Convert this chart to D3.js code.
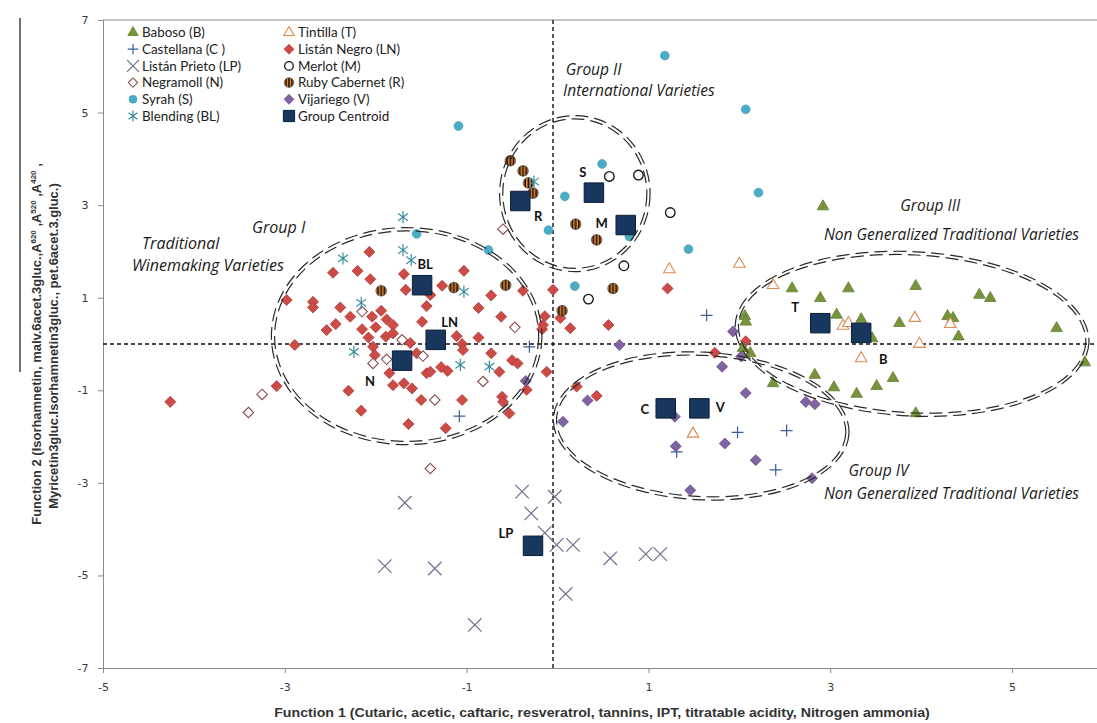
<!DOCTYPE html>
<html>
<head>
<meta charset="utf-8">
<script src="https://cdn.jsdelivr.net/npm/d3@7"></script>
<style>
  body { margin: 0; background: #fff; }
  svg { display: block; }
</style>
</head>
<body>
<svg id="chart" width="1097" height="723"></svg>
<script>
// Discriminant scores [Function 1, Function 2] for each wine sample, by grape variety
const baboso = [[2.92,2.97],[2.58,1.20],[3.20,1.20],[3.94,1.25],[2.89,0.99],[4.64,1.06],[4.76,0.99],[2.06,0.60],[2.07,0.48],[3.07,0.63],[3.34,0.53],[3.76,0.45],[4.29,0.60],[4.35,0.56],[5.49,0.34],[3.46,0.12],[4.41,0.16],[2.04,-0.09],[2.12,-0.20],[5.80,-0.40],[2.83,-0.67],[3.69,-0.74],[3.51,-0.91],[2.37,-0.85],[3.04,-0.94],[3.29,-1.08],[3.94,-1.50]];
const tintilla = [[2.00,1.73],[2.37,1.27],[3.14,0.39],[3.20,0.45],[3.93,0.56],[4.32,0.43],[3.98,0.00],[3.34,-0.31],[1.23,1.61],[1.49,-1.94]];
const castellana = [[-0.31,-0.06],[-1.08,-1.56],[1.64,0.62],[1.98,-1.91],[2.52,-1.87],[2.40,-2.72],[1.31,-2.33]];
const listanNegro = [[-4.26,-1.25],[-3.09,-0.91],[-2.98,0.95],[-2.89,-0.02],[-2.69,0.91],[-2.69,0.79],[-2.54,0.30],[-2.44,0.43],[-2.47,1.54],[-2.39,0.79],[-2.30,-1.01],[-2.28,0.59],[-2.20,1.58],[-2.16,-1.44],[-2.15,0.32],[-2.08,0.14],[-2.07,1.99],[-2.06,1.40],[-2.04,0.59],[-2.03,-0.06],[-2.01,-0.24],[-2.00,0.36],[-1.94,0.72],[-1.89,0.16],[-1.88,0.53],[-1.85,-0.63],[-1.81,0.41],[-1.81,0.23],[-1.81,-0.89],[-1.69,1.51],[-1.69,-0.85],[-1.67,1.17],[-1.64,-1.73],[-1.62,0.02],[-1.60,-0.96],[-1.55,-0.20],[-1.50,-1.21],[-1.49,0.48],[-1.44,0.82],[-1.44,-0.63],[-1.40,1.06],[-1.40,-0.60],[-1.28,-0.50],[-1.27,1.26],[-1.21,-0.58],[-1.23,-1.82],[-1.11,0.17],[-1.05,0.00],[-1.05,-1.21],[-1.04,-0.13],[-1.03,1.58],[-0.87,0.78],[-0.87,0.14],[-0.73,1.05],[-0.73,-0.20],[-0.64,-0.60],[-0.62,0.59],[-0.61,-1.14],[-0.60,-1.25],[-0.53,-1.50],[-0.50,-0.35],[-0.44,-0.42],[-0.38,1.15],[-0.34,-0.99],[-0.17,0.32],[-0.16,0.41],[-0.14,0.60],[-0.12,-0.60],[-0.05,1.17],[0.03,0.56],[0.14,0.34],[0.21,-0.92],[0.43,-1.12],[0.56,0.41],[1.21,1.20],[1.73,-0.19],[2.07,0.06]];
const listanPrieto = [[-1.68,-3.43],[-0.39,-3.19],[-0.03,-3.30],[-0.29,-3.66],[-0.14,-4.08],[-0.01,-4.34],[0.17,-4.34],[0.58,-4.63],[0.97,-4.54],[1.13,-4.54],[-1.90,-4.80],[-1.35,-4.85],[0.09,-5.40],[-0.91,-6.07]];
const merlot = [[0.57,3.62],[0.89,3.65],[1.24,2.84],[0.73,1.69],[0.34,0.97]];
const negramoll = [[-0.60,2.48],[-2.15,0.70],[-0.47,0.36],[-1.71,0.09],[-1.48,-0.26],[-1.88,-0.33],[-2.03,-0.42],[-0.82,-0.81],[-1.35,-1.21],[-3.25,-1.09],[-3.40,-1.48],[-1.40,-2.69]];
const rubyCabernet = [[-1.94,1.15],[-1.14,1.22],[-0.57,1.27],[-0.52,3.96],[-0.38,3.74],[-0.32,3.48],[-0.27,3.26],[0.20,2.59],[0.43,2.25],[0.61,1.20],[0.05,0.72]];
const syrah = [[1.18,6.23],[2.07,5.07],[-1.09,4.71],[0.49,3.89],[0.08,3.19],[2.21,3.27],[-0.10,2.46],[0.79,2.32],[1.44,2.05],[-0.76,2.03],[-1.55,2.38],[0.19,1.25]];
const vijariego = [[0.68,-0.02],[1.93,0.27],[2.02,-0.27],[1.81,-0.49],[2.07,-1.06],[0.33,-1.22],[0.06,-1.68],[1.29,-1.57],[1.30,-2.21],[1.84,-2.15],[2.18,-2.51],[2.73,-1.25],[2.83,-1.30],[2.80,-2.90],[1.46,-3.16],[-0.35,-0.80]];
const blending = [[-1.70,2.74],[-1.70,2.03],[-1.61,1.81],[-2.36,1.85],[-2.16,0.89],[-1.03,1.13],[-2.24,-0.17],[-1.07,-0.45],[-0.75,-0.49],[-0.26,3.51]];

// Group centroids
const centroidLabels = ["BL","LN","N","R","S","M","T","B","C","V","LP"];
const centroidF1 = [-1.49,-1.34,-1.71,-0.41,0.40,0.75,2.89,3.34,1.19,1.56,-0.27];
const centroidF2 = [1.27,0.09,-0.36,3.09,3.27,2.57,0.45,0.24,-1.39,-1.39,-4.36];

// Legend entries (two columns)
const legendLeft  = ["Baboso (B)","Castellana (C )","Listán Prieto (LP)","Negramoll (N)","Syrah (S)","Blending (BL)"];
const legendRight = ["Tintilla (T)","Listán Negro (LN)","Merlot (M)","Ruby Cabernet  (R)","Vijariego (V)","Group Centroid"];

// Axis ticks
const xTicks = [-5,-3,-1,1,3,5];
const yTicks = [7,5,3,1,-1,-3,-5,-7];

// Grouping ellipses: centre, semi-axes (score units)
const groups = [
  {name:"I",   cx:-1.66, cy:0.17,  rx:1.47, ry:2.31},
  {name:"II",  cx:0.19,  cy:3.25,  rx:0.81, ry:1.65},
  {name:"III", cx:3.90,  cy:0.22,  rx:1.93, ry:1.74},
  {name:"IV",  cx:1.58,  cy:-1.77, rx:1.61, ry:1.56}
];
const groupNotes = [
  {text:"Group I", f1:-3.36, f2:2.40, big:true},
  {text:"Traditional", f1:-4.57, f2:2.06, big:true},
  {text:"Winemaking Varieties", f1:-4.68, f2:1.57, big:true},
  {text:"Group II", f1:0.09, f2:5.81},
  {text:"International Varieties", f1:0.06, f2:5.36},
  {text:"Group III", f1:3.77, f2:2.87},
  {text:"Non Generalized Traditional Varieties", f1:2.93, f2:2.25},
  {text:"Group IV", f1:3.20, f2:-2.85},
  {text:"Non Generalized Traditional Varieties", f1:2.93, f2:-3.35}
];
const refF1 = -0.05;   // vertical reference line
const refF2 = 0;       // horizontal reference line

// ---------------------------------------------------------------
const svg = d3.select("#chart");
const x = d3.scaleLinear().domain([-5, 6]).range([103, 1103]);
const y = d3.scaleLinear().domain([-7, 7]).range([668, 20]);

// striped fill for Ruby Cabernet
const defs = svg.append("defs");
const pat = defs.append("pattern").attr("id", "rubyStripes")
  .attr("patternUnits", "objectBoundingBox").attr("patternContentUnits", "objectBoundingBox")
  .attr("width", 1).attr("height", 1);
pat.append("rect").attr("width", 1).attr("height", 1).attr("fill", "#F28A2E");
[[0.12, 0.16], [0.42, 0.16], [0.72, 0.16]].forEach(([x0, w]) =>
  pat.append("rect").attr("x", x0).attr("y", 0).attr("width", w).attr("height", 1).attr("fill", "#151515"));

// custom marker shapes
const asterisk = {
  draw(ctx, size) {
    const r = Math.sqrt(size) / 2;
    ctx.moveTo(0, -r); ctx.lineTo(0, r);
    ctx.moveTo(-0.8 * r, -0.6 * r); ctx.lineTo(0.8 * r, 0.6 * r);
    ctx.moveTo(-0.8 * r, 0.6 * r); ctx.lineTo(0.8 * r, -0.6 * r);
  }
};
const shapeTypes = {
  triangle: d3.symbolTriangle, diamond: d3.symbolDiamond2, circle: d3.symbolCircle,
  plus: d3.symbolPlus, times: d3.symbolTimes, square: d3.symbolSquare, asterisk: asterisk
};
const styles = {
  B:  {type:"triangle", size:58, fill:"#77933C", stroke:"#66802F", sw:0.8},
  T:  {type:"triangle", size:58, fill:"#ffffff", stroke:"#DD8A50", sw:1.1},
  C:  {type:"plus",     size:48, fill:"none",    stroke:"#3B5E96", sw:1.2},
  LN: {type:"diamond",  size:78, fill:"#CB4B46", stroke:"#B53C38", sw:0.8},
  LP: {type:"times",    size:120,fill:"none",    stroke:"#6F6F90", sw:1.2},
  M:  {type:"circle",   size:72, fill:"#ffffff", stroke:"#111111", sw:1.3},
  N:  {type:"diamond",  size:70, fill:"#ffffff", stroke:"#8E4C4C", sw:1.1},
  R:  {type:"circle",   size:90, fill:"url(#rubyStripes)", stroke:"#333", sw:0.6},
  S:  {type:"circle",   size:62, fill:"#4BACC6", stroke:"#3E9DB6", sw:0.6},
  V:  {type:"diamond",  size:78, fill:"#8064A2", stroke:"#6D528F", sw:0.8},
  BL: {type:"asterisk", size:150,fill:"none",    stroke:"#3A8E9E", sw:1.2},
  G:  {type:"square",   size:380,fill:"#17375E", stroke:"#0C1E36", sw:1}
};
const sym = (key, scale) => d3.symbol().type(shapeTypes[styles[key].type]).size(styles[key].size * (scale || 1))();

function drawSeries(data, key) {
  const st = styles[key];
  svg.append("g").selectAll("path").data(data).join("path")
    .attr("d", sym(key))
    .attr("transform", d => `translate(${x(d[0])},${y(d[1])})`)
    .attr("fill", st.fill).attr("stroke", st.stroke).attr("stroke-width", st.sw);
}

// ---- axes ----
const axisColor = "#8a8a8a";
const xAxis = svg.append("g").attr("transform", `translate(0,${y(-7)})`)
  .call(d3.axisBottom(x).tickValues(xTicks).tickSize(5).tickSizeOuter(0).tickFormat(d => String(d)));
const yAxis = svg.append("g").attr("transform", `translate(${x(-5)},0)`)
  .call(d3.axisLeft(y).tickValues(yTicks).tickSize(5).tickSizeOuter(0).tickFormat(d => String(d)));
[xAxis, yAxis].forEach(a => {
  a.selectAll("path,line").attr("stroke", axisColor);
  a.selectAll("text").attr("fill", "#3a3a3a").attr("font-family", "DejaVu Sans, Verdana, sans-serif").attr("font-size", 11);
});
xAxis.selectAll("text").attr("dy", "1.35em");
yAxis.selectAll("text").attr("dx", "-0.6em");
// top frame line
svg.append("line").attr("x1", x(-5)).attr("x2", x(6)).attr("y1", y(7)).attr("y2", y(7))
  .attr("stroke", axisColor).attr("stroke-width", 1);
// stray rule at left margin
svg.append("line").attr("x1", 20).attr("x2", 20).attr("y1", 18).attr("y2", 372)
  .attr("stroke", "#111").attr("stroke-width", 1.2);

// ---- reference lines ----
svg.append("line").attr("x1", x(-5)).attr("x2", x(6)).attr("y1", y(refF2)).attr("y2", y(refF2))
  .attr("stroke", "#111").attr("stroke-width", 1.4).attr("stroke-dasharray", "4,3");
svg.append("line").attr("x1", x(refF1)).attr("x2", x(refF1)).attr("y1", y(7)).attr("y2", y(-7))
  .attr("stroke", "#111").attr("stroke-width", 1.4).attr("stroke-dasharray", "4,3");

// ---- data points ----
drawSeries(listanNegro, "LN");
drawSeries(negramoll, "N");
drawSeries(listanPrieto, "LP");
drawSeries(castellana, "C");
drawSeries(vijariego, "V");
drawSeries(baboso, "B");
drawSeries(tintilla, "T");
drawSeries(syrah, "S");
drawSeries(merlot, "M");
drawSeries(rubyCabernet, "R");
drawSeries(blending, "BL");

// ---- grouping ellipses (double dashed) ----
const rot = {I:0, II:0, III:3, IV:3};
groups.forEach(gr => {
  const cx = x(gr.cx), cy = y(gr.cy);
  const rx = x(gr.cx + gr.rx) - cx, ry = cy - y(gr.cy + gr.ry);
  [-1.6, 1.6].forEach(off => {
    svg.append("ellipse").attr("cx", cx).attr("cy", cy)
      .attr("rx", rx + off).attr("ry", ry + off)
      .attr("transform", `rotate(${rot[gr.name]},${cx},${cy})`)
      .attr("fill", "none").attr("stroke", "#2a2a2a").attr("stroke-width", 1.2)
      .attr("stroke-dasharray", "13,6");
  });
});

// ---- centroids ----
const centroids = centroidLabels.map((l, i) => [centroidF1[i], centroidF2[i], l]);
drawSeries(centroids, "G");
const labelOffset = {BL:[3,-21], LN:[14,-17], N:[-32,21], R:[18,15], S:[-11,-20], M:[-24,-2],
                     T:[-25,-16], B:[22,27], C:[-21,1], V:[21,-1], LP:[-27,-12]};
svg.append("g").selectAll("text").data(centroids).join("text")
  .attr("x", d => x(d[0]) + labelOffset[d[2]][0])
  .attr("y", d => y(d[1]) + labelOffset[d[2]][1])
  .attr("dy", "0.35em").attr("text-anchor", "middle")
  .attr("font-family", "Lato, 'Open Sans', sans-serif").attr("font-weight", "bold")
  .attr("font-size", 13).attr("fill", "#111").text(d => d[2]);

// ---- group annotations ----
svg.append("g").selectAll("text").data(groupNotes).join("text")
  .attr("x", d => x(d.f1)).attr("y", d => y(d.f2))
  .attr("font-family", "'Open Sans', Lato, sans-serif").attr("font-style", "italic")
  .attr("font-size", d => d.big ? 16 : 15.5).attr("fill", "#1a1a1a").text(d => d.text);

// ---- legend ----
const legendKeys = [["B","C","LP","N","S","BL"], ["T","LN","M","R","V","G"]];
const legendText = [legendLeft, legendRight];
const colX = [133, 289], rowY0 = 32.5, rowStep = 16.7;
legendKeys.forEach((keys, c) => {
  keys.forEach((k, r) => {
    const cy = rowY0 + r * rowStep;
    const st = styles[k];
    svg.append("path").attr("d", sym(k, k === "G" ? 0.33 : 0.8))
      .attr("transform", `translate(${colX[c]},${cy})`)
      .attr("fill", st.fill).attr("stroke", st.stroke).attr("stroke-width", st.sw);
    svg.append("text").attr("x", colX[c] + 9).attr("y", cy).attr("dy", "0.36em")
      .attr("font-family", "Lato, 'Open Sans', sans-serif").attr("font-size", 13.4)
      .attr("fill", "#222").text(legendText[c][r]);
  });
});

// ---- axis titles ----
function fitText(sel, target) {
  const w = sel.node().getComputedTextLength();
  return target / w;
}
const xt = svg.append("text").attr("text-anchor", "middle")
  .attr("font-family", "'Liberation Sans Narrow', 'Arial Narrow', 'Liberation Sans', sans-serif")
  .attr("font-weight", "bold").attr("font-size", 13).attr("fill", "#333")
  .text("Function 1 (Cutaric, acetic, caftaric,  resveratrol, tannins, IPT, titratable acidity, Nitrogen ammonia)");
xt.attr("transform", `translate(602,717) scale(${fitText(xt, 656)},1)`);

const yt1 = svg.append("text").attr("text-anchor", "middle")
  .attr("font-family", "'Liberation Sans Narrow', 'Arial Narrow', 'Liberation Sans', sans-serif")
  .attr("font-weight", "bold").attr("font-size", 13).attr("fill", "#333");
yt1.append("tspan").text("Function 2 (Isorhamnetin, malv.6acet.3gluc.,A");
yt1.append("tspan").attr("font-size", 8).attr("dy", -5).text("620");
yt1.append("tspan").attr("dy", 5).text(" ,A");
yt1.append("tspan").attr("font-size", 8).attr("dy", -5).text("520");
yt1.append("tspan").attr("dy", 5).text(" ,A");
yt1.append("tspan").attr("font-size", 8).attr("dy", -5).text("420");
yt1.append("tspan").attr("dy", 5).text(" ,");
yt1.attr("transform", `translate(41,344) rotate(-90) scale(${fitText(yt1, 362)},1)`);

const yt2 = svg.append("text").attr("text-anchor", "middle")
  .attr("font-family", "'Liberation Sans Narrow', 'Arial Narrow', 'Liberation Sans', sans-serif")
  .attr("font-weight", "bold").attr("font-size", 13).attr("fill", "#333")
  .text("Myricetin3gluc.Isorhamnetin3gluc.,  pet.6acet.3.gluc.)");
yt2.attr("transform", `translate(58,346) rotate(-90) scale(${fitText(yt2, 326)},1)`);
</script>
</body>
</html>
